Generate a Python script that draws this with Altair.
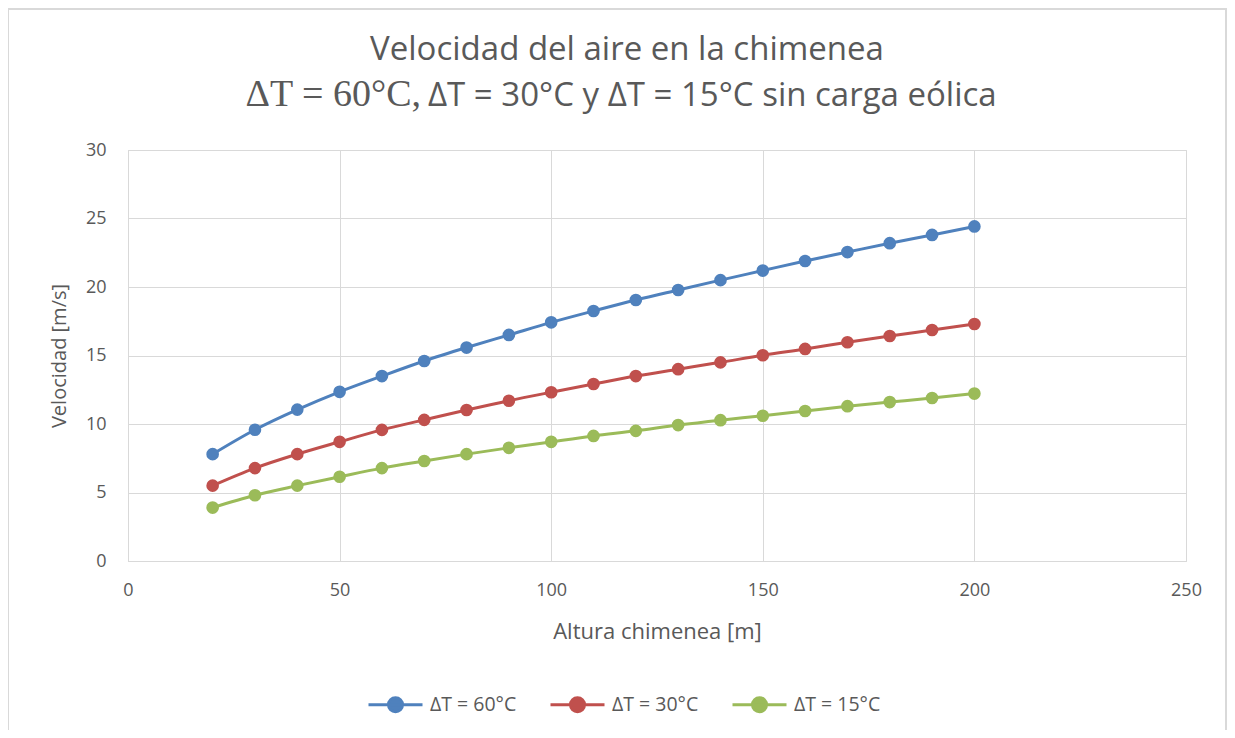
import altair as alt
import pandas as pd

alturas = [20, 30, 40, 50, 60, 70, 80, 90, 100, 110, 120, 130, 140, 150, 160, 170, 180, 190, 200]
v60 = [7.8, 9.58, 11.05, 12.35, 13.5, 14.6, 15.58, 16.5, 17.42, 18.25, 19.05, 19.78, 20.5, 21.2, 21.9, 22.55, 23.2, 23.8, 24.42]
v30 = [5.5, 6.78, 7.8, 8.7, 9.57, 10.3, 11.02, 11.7, 12.32, 12.92, 13.5, 14.0, 14.5, 15.02, 15.48, 15.97, 16.42, 16.86, 17.3]
v15 = [3.9, 4.8, 5.5, 6.15, 6.78, 7.3, 7.8, 8.26, 8.7, 9.13, 9.5, 9.92, 10.28, 10.6, 10.95, 11.3, 11.6, 11.9, 12.22]
series_names = ["ΔT = 60°C", "ΔT = 30°C", "ΔT = 15°C"]
series_colors = ["#4f81bd", "#c0504d", "#9bbb59"]

title_line1 = "Velocidad del aire en la chimenea"
title_line2_serif = "ΔT = 60°C,"
title_line2_sans = "ΔT = 30°C y ΔT = 15°C sin carga eólica"

rows = []
for name, vals in zip(series_names, [v60, v30, v15]):
    for h, v in zip(alturas, vals):
        rows.append({"Altura": h, "Velocidad": v, "Serie": name})
df = pd.DataFrame(rows)

W, H = 1058, 411
SANS = "Open Sans"
GREY = "#595959"

color = alt.Color(
    "Serie:N",
    scale=alt.Scale(domain=series_names, range=series_colors),
    sort=series_names,
    legend=alt.Legend(
        title=None,
        orient="none",
        legendX=239,
        legendY=526,
        direction="horizontal",
        symbolType="M-1,0L1,0M-0.26,0A0.26,0.26,0,1,1,0.26,0A0.26,0.26,0,1,1,-0.26,0",
        symbolSize=2916,
        symbolStrokeWidth=3,
        labelFont=SANS,
        labelFontSize=19.5,
        labelColor=GREY,
        labelOffset=6,
        columnPadding=27,
    ),
)

x = alt.X(
    "Altura:Q",
    scale=alt.Scale(domain=[0, 250], nice=False),
    axis=alt.Axis(
        values=[0, 50, 100, 150, 200, 250],
        title="Altura chimenea [m]",
        labelPadding=20,
        labelFlush=False,
        titlePadding=22,
        titleFontSize=22,
    ),
)
y = alt.Y(
    "Velocidad:Q",
    scale=alt.Scale(domain=[0, 30], nice=False),
    axis=alt.Axis(
        values=[0, 5, 10, 15, 20, 25, 30],
        title="Velocidad [m/s]",
        labelPadding=22,
        titlePadding=16,
    ),
)

base = alt.Chart(df)
points = base.mark_circle(size=160, opacity=1).encode(x=x, y=y, color=color)
lines = base.mark_line(strokeWidth=3, interpolate="monotone").encode(x=x, y=y, color=color)

one = pd.DataFrame({"k": [0]})
t1 = alt.Chart(one).mark_text(font=SANS, fontSize=33, color=GREY, align="center", baseline="alphabetic").encode(
    x=alt.value(W / 2 - 30), y=alt.value(-90), text=alt.value(title_line1))
t2a = alt.Chart(one).mark_text(font="Liberation Serif", fontSize=38, color=GREY, align="right", baseline="alphabetic").encode(
    x=alt.value(293), y=alt.value(-44), text=alt.value(title_line2_serif))
t2b = alt.Chart(one).mark_text(font=SANS, fontSize=33, color=GREY, align="left", baseline="alphabetic").encode(
    x=alt.value(300), y=alt.value(-44), text=alt.value(title_line2_sans))
frame = alt.Chart(one).mark_rect(fill="transparent", stroke="#d9d9d9", strokeWidth=2).encode(
    x=alt.value(-120), x2=alt.value(1098), y=alt.value(-141), y2=alt.value(600))

chart = (
    alt.layer(frame, lines, points, t1, t2a, t2b)
    .properties(width=W, height=H, autosize=alt.AutoSizeParams(type="none"),
                padding={"left": 120, "top": 142, "right": 41, "bottom": 169})
    .configure(background="white")
    .configure_view(stroke="#d9d9d9", strokeWidth=1)
    .configure_axis(
        grid=True,
        gridColor="#d9d9d9",
        gridWidth=1,
        domainColor="#d9d9d9",
        ticks=False,
        labelFont=SANS,
        labelFontSize=18,
        labelColor=GREY,
        titleFont=SANS,
        titleFontSize=20,
        titleFontWeight="normal",
        titleColor=GREY,
    )
)

chart.save("out.html", embed_options={"renderer": "svg", "actions": False})
